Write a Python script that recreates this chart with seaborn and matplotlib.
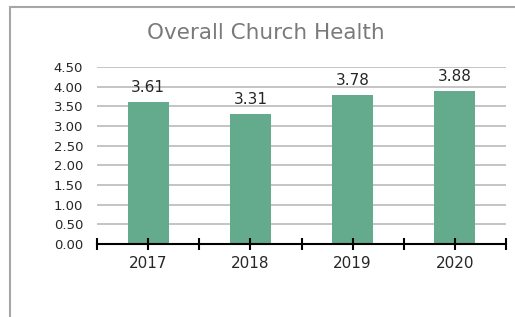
import matplotlib
matplotlib.use("Agg")
import matplotlib.pyplot as plt
import seaborn as sns
import pandas as pd
from matplotlib.patches import Rectangle

years = ["2017", "2018", "2019", "2020"]
scores = [3.61, 3.31, 3.78, 3.88]
y_ticks = [0.0, 0.5, 1.0, 1.5, 2.0, 2.5, 3.0, 3.5, 4.0, 4.5]
title = "Overall Church Health"

sns.set_style("white")
plt.rcParams["font.family"] = ["DejaVu Sans"]

df = pd.DataFrame({"year": years, "score": scores})

fig = plt.figure(figsize=(5.15, 3.17), dpi=100)
fig.patch.set_facecolor("white")
ax = fig.add_axes([97 / 515, 1 - 244 / 317, (506 - 97) / 515, (244 - 67) / 317])

sns.barplot(data=df, x="year", y="score", color="#64AA8C", saturation=1,
            width=0.4, ax=ax, zorder=3, edgecolor="none", linewidth=0)

ax.set_ylim(0, 4.5)
ax.set_xlim(-0.5, 3.5)
ax.set_yticks(y_ticks)
ax.set_yticklabels([f"{v:.2f}" for v in y_ticks], fontsize=9.5, color="#262626")
ax.yaxis.grid(True, color="#bfbfbf", linewidth=1.3)
ax.set_axisbelow(True)
ax.xaxis.set_zorder(6)
for s in ["left", "right", "top"]:
    ax.spines[s].set_visible(False)
ax.spines["bottom"].set_color("black")
ax.spines["bottom"].set_linewidth(1.5)
ax.spines["bottom"].set_zorder(5)
ax.tick_params(axis="y", length=0, pad=10)

ax.set_xticks([0, 1, 2, 3])
ax.set_xticklabels(years, fontsize=11, color="#262626")
ax.set_xticks([-0.5, 0.5, 1.5, 2.5, 3.5], minor=True)
ax.tick_params(axis="x", which="both", bottom=True, direction="inout",
               length=9, width=1.5, color="black", pad=4)
ax.set_xlabel("")
ax.set_ylabel("")

for c in ax.containers:
    ax.bar_label(c, labels=[f"{v:.2f}" for v in scores], padding=5,
                 fontsize=11, color="#262626")

fig.text(266 / 515, 1 - 33 / 317, title, ha="center", va="center",
         fontsize=15.5, color="#7a7a7a")

fig.patches.append(Rectangle((10 / 515, -0.1), 1.2, 1 - 7 / 317 + 0.1,
                             transform=fig.transFigure, fill=False,
                             edgecolor="#a6a6a6", linewidth=1.5))

fig.savefig("out.png", dpi=100, facecolor="white")
